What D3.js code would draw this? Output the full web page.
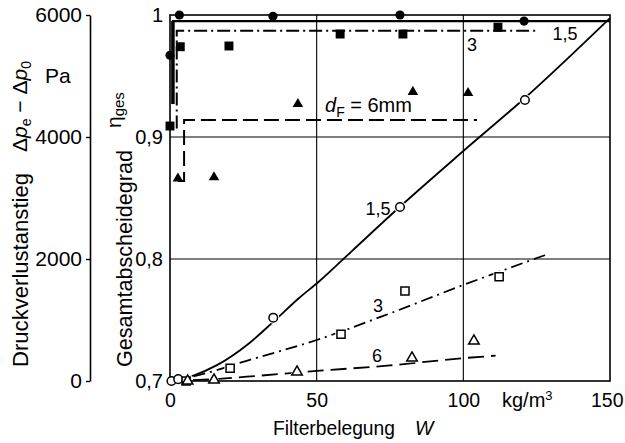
<!DOCTYPE html>
<html>
<head>
<meta charset="utf-8">
<script src="https://cdn.jsdelivr.net/npm/d3@7"></script>
<style>
  html, body { margin: 0; padding: 0; background: #fff; }
  svg { display: block; font-family: "Liberation Sans", Arial, sans-serif; }
</style>
</head>
<body>
<svg id="chart" width="625" height="443"></svg>
<script>
// ---- axis ticks ----
const xTicks = [0, 50, 100, 150];
const xTickLabels = ["0", "50", "100", "150"];
const etaTicks = [0.7, 0.8, 0.9, 1.0];
const etaTickLabels = ["0,7", "0,8", "0,9", "1"];
const dpTicks = [0, 2000, 4000, 6000];
const dpTickLabels = ["0", "2000", "4000", "6000"];

// ---- pressure drop rise Δpe − Δp0 (Pa), open markers, per fibre diameter ----
const dp15W = [0.5, 2.8, 35.2, 78.4, 121];
const dp15P = [0, 30, 1038, 2852, 4607];
const dp3W = [5.5, 20.5, 58.3, 80.1, 112.2];
const dp3P = [0, 210, 766, 1475, 1710];
const dp6W = [6, 15, 43.3, 82.5, 103.6];
const dp6P = [0, 16, 148, 377, 656];

// fitted curves through the pressure drop data
const dp15FitW = [0, 8, 16, 27, 35, 44, 51, 62, 78, 100, 121, 150];
const dp15FitP = [0, 90, 260, 620, 960, 1360, 1640, 2130, 2840, 3770, 4640, 5950];
const dp3FitW = [0, 10, 27, 50, 72, 100, 128];
const dp3FitP = [0, 100, 344, 672, 1054, 1574, 2066];
const dp6FitW = [0, 15, 30, 50, 75, 100, 111];
const dp6FitP = [0, 30, 85, 165, 255, 375, 415];

// ---- total separation efficiency η_ges, filled markers ----
const eta15W = [0, 3.2, 35.1, 78.4, 120.7];
const eta15V = [0.967, 1.0, 0.999, 1.0, 0.995];
const eta3W = [0, 3.5, 20.1, 58, 79.4, 111.8];
const eta3V = [0.909, 0.974, 0.9746, 0.9844, 0.9844, 0.990];
const eta6W = [2.7, 15, 43.6, 82.8, 101.6];
const eta6V = [0.866, 0.867, 0.927, 0.937, 0.936];

// efficiency trend lines (steep rise, then constant)
const eta15LineW = [1, 1, 150];
const eta15LineV = [0.927, 0.995, 0.995];
const eta3LineW = [2.3, 2.3, 125.5];
const eta3LineV = [0.907, 0.987, 0.987];
const eta6LineW = [2.7, 4.8, 4.8, 104.7];
const eta6LineV = [0.864, 0.864, 0.914, 0.914];

const zip = (a, b) => a.map((v, i) => [v, b[i]]);

const svg = d3.select("#chart");
const x = d3.scaleLinear().domain([0, 150]).range([170, 610]);
const yE = d3.scaleLinear().domain([0.7, 1]).range([381, 15]);
const yP = d3.scaleLinear().domain([0, 6000]).range([381, 15]);

// grid lines
const grid = svg.append("g").attr("stroke", "#000").attr("stroke-width", 1.1);
grid.selectAll("line.gv").data([50, 100]).join("line").attr("class", "gv")
  .attr("x1", d => x(d)).attr("x2", d => x(d)).attr("y1", yE(1)).attr("y2", yE(0.7));
grid.selectAll("line.gh").data([0.8, 0.9]).join("line").attr("class", "gh")
  .attr("x1", x(0)).attr("x2", x(150)).attr("y1", d => yE(d)).attr("y2", d => yE(d));

// line generators
const lineP = d3.line().x(d => x(d[0])).y(d => yP(d[1])).curve(d3.curveMonotoneX);
const lineE = d3.line().x(d => x(d[0])).y(d => yE(d[1]));

const dashDot = "13,4,2,4";
const dashed = "15,6";

// pressure drop curves
svg.append("path").attr("d", lineP(zip(dp15FitW, dp15FitP)))
  .attr("fill", "none").attr("stroke", "#000").attr("stroke-width", 1.8);
svg.append("path").attr("d", lineP(zip(dp3FitW, dp3FitP)))
  .attr("fill", "none").attr("stroke", "#000").attr("stroke-width", 1.8)
  .attr("stroke-dasharray", "12,5,2,5");
svg.append("path").attr("d", lineP(zip(dp6FitW, dp6FitP)))
  .attr("fill", "none").attr("stroke", "#000").attr("stroke-width", 1.8)
  .attr("stroke-dasharray", "16,7");

// efficiency lines
svg.append("path").attr("d", lineE(zip(eta15LineW, eta15LineV)))
  .attr("fill", "none").attr("stroke", "#000").attr("stroke-width", 2.2);
svg.append("path").attr("d", lineE(zip(eta15LineW.slice(0, 2), eta15LineV.slice(0, 2))))
  .attr("fill", "none").attr("stroke", "#000").attr("stroke-width", 3.5);
svg.append("path").attr("d", lineE(zip(eta3LineW, eta3LineV)))
  .attr("fill", "none").attr("stroke", "#000").attr("stroke-width", 2)
  .attr("stroke-dasharray", dashDot);
svg.append("path").attr("d", lineE(zip(eta6LineW, eta6LineV)))
  .attr("fill", "none").attr("stroke", "#000").attr("stroke-width", 2)
  .attr("stroke-dasharray", dashed);

// open markers: white halo first so the curves show a small gap
const openSets = [
  [zip(dp15W, dp15P), d3.symbolCircle, 58],
  [zip(dp3W, dp3P), d3.symbolSquare, 66],
  [zip(dp6W, dp6P), d3.symbolTriangle, 48]
];
const halo = svg.append("g");
openSets.forEach(([pts, type, size]) => {
  halo.append("g").selectAll("path").data(pts).join("path")
    .attr("transform", d => `translate(${x(d[0])},${yP(d[1])})`)
    .attr("d", d3.symbol().type(type).size(size * 2.0))
    .attr("fill", "#fff");
});

// frame
svg.append("rect")
  .attr("x", x(0)).attr("y", yE(1))
  .attr("width", x(150) - x(0)).attr("height", yE(0.7) - yE(1))
  .attr("fill", "none").attr("stroke", "#000").attr("stroke-width", 1.6);

openSets.forEach(([pts, type, size]) => {
  svg.append("g").selectAll("path").data(pts).join("path")
    .attr("transform", d => `translate(${x(d[0])},${yP(d[1])})`)
    .attr("d", d3.symbol().type(type).size(size))
    .attr("fill", "#fff").attr("stroke", "#000").attr("stroke-width", 1.5);
});

// filled markers
const filledSets = [
  [zip(eta15W, eta15V), d3.symbolCircle, 66],
  [zip(eta3W, eta3V), d3.symbolSquare, 80],
  [zip(eta6W, eta6V), d3.symbolTriangle, 48]
];
filledSets.forEach(([pts, type, size]) => {
  svg.append("g").selectAll("path").data(pts).join("path")
    .attr("transform", d => `translate(${x(d[0])},${yE(d[1])})`)
    .attr("d", d3.symbol().type(type).size(size))
    .attr("fill", "#000");
});

// ---- axes ----
function styleAxis(g, size) {
  g.attr("font-family", null).attr("font-size", null);
  g.selectAll("text").attr("font-size", size).attr("fill", "#000");
  g.selectAll("line").attr("stroke", "#000").attr("stroke-width", 1.4);
  g.selectAll(".domain").attr("stroke", "#000").attr("stroke-width", 1.6);
}

const dpAxis = d3.axisLeft(yP).tickValues(dpTicks)
  .tickFormat((d, i) => dpTickLabels[i]).tickSize(4).tickSizeOuter(0).tickPadding(4);
svg.append("g").attr("transform", "translate(90,0)").call(dpAxis).call(g => styleAxis(g, 21));

const etaAxis = d3.axisLeft(yE).tickValues(etaTicks)
  .tickFormat((d, i) => etaTickLabels[i]).tickSize(0).tickPadding(7);
svg.append("g").attr("transform", `translate(${x(0)},0)`).call(etaAxis)
  .call(g => { g.select(".domain").remove(); styleAxis(g, 20); });

const xAxis = d3.axisBottom(x).tickValues(xTicks)
  .tickFormat((d, i) => xTickLabels[i]).tickSize(0).tickPadding(12);
svg.append("g").attr("transform", `translate(0,${yE(0.7)})`).call(xAxis)
  .call(g => {
    g.select(".domain").remove();
    styleAxis(g, 19.5);
    // keep the last label inside the drawing area
    g.selectAll(".tick text").filter(d => d === 150).attr("text-anchor", "end").attr("dx", 13);
  });

// ---- texts ----
const T = (xp, yp, str, size, anchor) => svg.append("text")
  .attr("x", xp).attr("y", yp).attr("font-size", size)
  .attr("text-anchor", anchor || "start").text(str);

// units on x axis
const unit = T(502, 407, "kg/m", 20);
unit.append("tspan").attr("dy", -7).attr("font-size", 13).text("3");

// x axis title
T(273, 435, "Filterbelegung", 19.5).attr("textLength", 122).attr("lengthAdjust", "spacingAndGlyphs");
T(415, 435, "W", 19.5).attr("font-style", "italic");

// pressure unit
T(45, 83, "Pa", 21);

// rotated titles
const R = (xp, yp, size) => svg.append("text")
  .attr("transform", `translate(${xp},${yp}) rotate(-90)`)
  .attr("font-size", size);

R(28, 367, 21.5).attr("textLength", 194).attr("lengthAdjust", "spacingAndGlyphs")
  .text("Druckverlustanstieg");

const dpLbl = R(27, 152, 21);
dpLbl.append("tspan").text("Δ");
dpLbl.append("tspan").attr("font-style", "italic").text("p");
dpLbl.append("tspan").attr("font-size", 14).attr("dy", 4).text("e");
dpLbl.append("tspan").attr("dy", -4).text(" − Δ");
dpLbl.append("tspan").attr("font-style", "italic").text("p");
dpLbl.append("tspan").attr("font-size", 14).attr("dy", 4).text("0");

R(132, 367, 21.5).attr("textLength", 217).attr("lengthAdjust", "spacingAndGlyphs")
  .text("Gesamtabscheidegrad");

const etaLbl = R(121, 128, 21);
etaLbl.append("tspan").text("η");
etaLbl.append("tspan").attr("font-size", 15).attr("dy", 3).text("ges");

// curve labels
T(565, 40, "1,5", 18, "middle");
T(472, 51, "3", 18, "middle");
T(378, 215, "1,5", 18, "middle");
T(378, 312, "3", 18, "middle");
T(377, 362, "6", 18, "middle");

const dF = T(325, 112, "", 20);
dF.append("tspan").attr("font-style", "italic").text("d");
dF.append("tspan").attr("font-size", 14).attr("dy", 5).text("F");
dF.append("tspan").attr("dy", -5).text(" = 6mm");
</script>
</body>
</html>
